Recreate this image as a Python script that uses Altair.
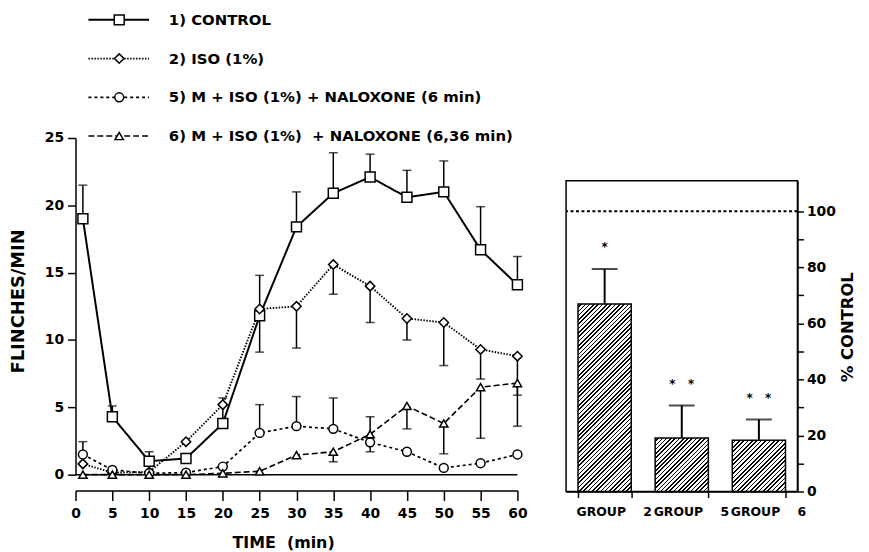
import altair as alt
import pandas as pd

NB = "\u00a0"  # non-collapsing space for SVG text

# ---------------- data ----------------
time = [1, 5, 10, 15, 20, 25, 30, 35, 40, 45, 50, 55, 60]
time_ticks = [0, 5, 10, 15, 20, 25, 30, 35, 40, 45, 50, 55, 60]

series = [
    "1) CONTROL",
    "2) ISO (1%)",
    "5) M + ISO (1%) + NALOXONE (6 min)",
    "6) M + ISO (1%)" + NB + NB + "+ NALOXONE (6,36 min)",
]

control = [19.0, 4.3, 1.0, 1.2, 3.8, 11.8, 18.4, 20.9, 22.1, 20.6, 21.0, 16.7, 14.1]
control_err = [21.5, 5.1, 1.7, None, 5.7, 14.8, 21.0, 23.9, 23.8, 22.6, 23.3, 19.9, 16.2]

iso = [0.8, 0.15, 0.2, 2.45, 5.2, 12.3, 12.5, 15.6, 14.0, 11.6, 11.3, 9.3, 8.8]
iso_err = [None, None, None, None, None, 9.1, 9.4, 13.4, 11.3, 10.0, 8.1, 7.1, 5.9]

g5 = [1.5, 0.35, 0.1, 0.15, 0.6, 3.1, 3.6, 3.4, 2.4, 1.7, 0.5, 0.85, 1.5]
g5_err = [2.45, None, None, None, None, 5.2, 5.8, 5.7, 1.7, None, None, None, None]

g6 = [0.0, 0.0, 0.0, 0.0, 0.1, 0.25, 1.45, 1.7, 3.0, 5.1, 3.8, 6.5, 6.8]
g6_err = [None, None, None, None, None, None, None, 0.95, 4.3, 3.4, 1.55, 2.7, 3.6]

groups = ["GROUP" + NB * 4 + "2", "GROUP" + NB * 4 + "5", "GROUP" + NB * 4 + "6"]
pct = [66.9, 19.1, 18.3]
pct_err = [79.4, 30.7, 25.7]
sig = ["*", "*" + NB * 3 + "*", "*" + NB * 3 + "*"]
control_level = [100]
baseline = [0]

# ---------------- tables ----------------
rows = []
for s, vals, errs in zip(series, [control, iso, g5, g6], [control_err, iso_err, g5_err, g6_err]):
    for t, v, e in zip(time, vals, errs):
        rows.append({"series": s, "time": t, "value": v, "err": e})
df = pd.DataFrame(rows)
df_err = df.dropna(subset=["err"]).copy()
leg_df = pd.DataFrame({"series": series})
bar_df = pd.DataFrame({"group": groups, "pct": pct, "err": pct_err, "sig": sig})
ref_df = pd.DataFrame({"level": control_level})
base_df = pd.DataFrame({"value": baseline})

FONT = "DejaVu Sans"

# ---------------- left panel ----------------
L_W, L_H = 445, 466
xscale = alt.Scale(domain=[0, 60], nice=False, zero=False)
yscale = alt.Scale(domain=[0, 25], range=[L_H, 127], nice=False)

dash_scale = alt.Scale(domain=series, range=[[1, 0], [1.5, 1.5], [3, 3], [6, 3]])
width_scale = alt.Scale(domain=series, range=[2, 1.6, 2, 1.6])
shape_scale = alt.Scale(domain=series, range=["square", "diamond", "circle", "triangle-up"])
size_scale = alt.Scale(domain=series, range=[100, 70, 85, 80])

x_axis = alt.Axis(values=time_ticks, tickCount=len(time_ticks) + 2, offset=16, tickSize=10,
                  labelPadding=6, labelFontSize=14, labelOverlap=False, labelFlush=False,
                  titleFontSize=16, titlePadding=14, titleX=209, grid=False)
y_axis = alt.Axis(values=[0, 5, 10, 15, 20, 25], tickSize=8, labelPadding=4,
                  labelFontSize=14, titleFontSize=18, titlePadding=17, titleY=291, grid=False)

X_TITLE = "TIME" + NB + NB + "(min)"


def X(field):
    return alt.X(field, scale=xscale, title=X_TITLE, axis=x_axis)


def Y(field):
    return alt.Y(field, scale=yscale, title="FLINCHES/MIN", axis=y_axis)


lines = alt.Chart(df).mark_line(color="black").encode(
    x=X("time:Q"), y=Y("value:Q"),
    strokeDash=alt.StrokeDash("series:N", scale=dash_scale, legend=None),
    strokeWidth=alt.StrokeWidth("series:N", scale=width_scale, legend=None),
)
zero_line = alt.Chart(base_df).mark_rule(color="black", strokeWidth=1.5).encode(y=Y("value:Q"))
err_rules = alt.Chart(df_err).mark_rule(color="black", strokeWidth=1.5).encode(
    x=X("time:Q"), y=Y("value:Q"), y2="err:Q"
)
err_caps = alt.Chart(df_err).mark_tick(orient="horizontal", size=9, thickness=1.5, color="black").encode(
    x=X("time:Q"), y=Y("err:Q")
)
points = alt.Chart(df).mark_point(filled=True, fill="white", stroke="black", strokeWidth=1.5, opacity=1).encode(
    x=X("time:Q"), y=Y("value:Q"),
    shape=alt.Shape("series:N", scale=shape_scale, legend=None),
    size=alt.Size("series:N", scale=size_scale, legend=None),
)
main = alt.layer(lines, zero_line, err_rules, err_caps, points)

leg_y = alt.Y("series:N", sort=series, scale=alt.Scale(type="point", range=[8, 125], padding=0), axis=None)
leg_rule = alt.Chart(leg_df).mark_rule(color="black").encode(
    x=alt.value(13), x2=alt.value(74), y=leg_y,
    strokeDash=alt.StrokeDash("series:N", scale=dash_scale, legend=None),
    strokeWidth=alt.StrokeWidth("series:N", scale=width_scale, legend=None),
)
leg_pt = alt.Chart(leg_df).mark_point(filled=True, fill="white", stroke="black", strokeWidth=1.5, opacity=1).encode(
    x=alt.value(44), y=leg_y,
    shape=alt.Shape("series:N", scale=shape_scale, legend=None),
    size=alt.Size("series:N", scale=size_scale, legend=None),
)
leg_txt = alt.Chart(leg_df).mark_text(
    align="left", baseline="middle", font=FONT, fontWeight="bold", fontSize=15, color="black"
).encode(x=alt.value(94), y=leg_y, text="series:N")
legend = alt.layer(leg_rule, leg_pt, leg_txt)

left = alt.layer(main, legend).resolve_scale(y="independent").properties(width=L_W, height=L_H)

# ---------------- right panel ----------------
R_W, R_H = 233, 483
R_TOP_PX = 170
FRAME_TOP = 110.9
P_IN, P_OUT = 0.31, 0.155
px_per_unit = (R_H - R_TOP_PX) / FRAME_TOP
step = R_W / (len(groups) - P_IN + 2 * P_OUT)
bandw = step * (1 - P_IN)


def hatch(w, h, period=4.3, ink=0.38):
    n = max(1, round((w + h) / period))
    stops = []
    for i in range(n):
        a = i / n
        b = (i + 1 - ink) / n
        c = (i + 1) / n
        stops += [
            alt.GradientStop(color="white", offset=a),
            alt.GradientStop(color="white", offset=b),
            alt.GradientStop(color="black", offset=b),
            alt.GradientStop(color="black", offset=c),
        ]
    k = (w + h) / (w * w + h * h)
    return alt.LinearGradient(gradient="linear", stops=stops, x1=0, y1=0, x2=w * k, y2=h * k)


xb = alt.X(
    "group:N", sort=groups, title=None,
    scale=alt.Scale(paddingInner=P_IN, paddingOuter=P_OUT),
    axis=alt.Axis(labelAngle=0, tickBand="extent", tickSize=6, labelAlign="left",
                  labelOffset=-bandw / 2 - 2, labelPadding=8, labelFontSize=12.5,
                  labelOverlap=False, domain=True),
)
yb = alt.Y(
    "pct:Q", scale=alt.Scale(domain=[0, FRAME_TOP], range=[R_H, R_TOP_PX], nice=False),
    title="% CONTROL",
    axis=alt.Axis(orient="right", values=list(range(0, 101, 10)), tickCount=20,
                  labelExpr="datum.value % 20 == 0 ? datum.label : ''",
                  tickSize=6, labelPadding=3, labelFontSize=14, titleFontSize=16.5,
                  titleAngle=270, titleBaseline="top", titlePadding=4, titleY=317, grid=False),
)

frame = alt.Chart(ref_df).mark_rect(filled=False, stroke="black", strokeWidth=1.5).encode(
    x=alt.value(0), x2=alt.value(R_W), y=alt.datum(0), y2=alt.datum(FRAME_TOP)
)
bars = []
for g, v in zip(groups, pct):
    bars.append(
        alt.Chart(bar_df).transform_filter(alt.datum.group == g).mark_bar(
            fill=hatch(bandw, v * px_per_unit), stroke="black", strokeWidth=1.5
        ).encode(x=xb, y=yb)
    )
bar_err = alt.Chart(bar_df).mark_rule(color="black", strokeWidth=2).encode(x=xb, y="pct:Q", y2="err:Q")
bar_cap = alt.Chart(bar_df).mark_tick(orient="horizontal", size=26, thickness=2, color="black").encode(
    x=xb, y="err:Q"
)
stars = alt.Chart(bar_df).mark_text(
    dy=-18, baseline="alphabetic", font=FONT, fontWeight="bold", fontSize=12, color="black"
).encode(x=xb, y="err:Q", text="sig:N")
hundred = alt.Chart(ref_df).mark_rule(color="black", strokeWidth=2, strokeDash=[3, 2.5]).encode(
    y=alt.Y("level:Q")
)

right = alt.layer(frame, *bars, bar_err, bar_cap, stars, hundred).properties(width=R_W, height=R_H)

chart = alt.hconcat(left, right, spacing=38).properties(
    padding={"left": 1, "top": 2, "right": 5, "bottom": 5}
).configure_view(stroke=None).configure_axis(
    domainColor="black", domainWidth=1.5, tickColor="black", tickWidth=1.5,
    labelColor="black", titleColor="black", labelFont=FONT, titleFont=FONT,
    labelFontWeight="bold", titleFontWeight="bold", grid=False,
)

chart.save("out.html", embed_options={"renderer": "svg", "actions": False})
